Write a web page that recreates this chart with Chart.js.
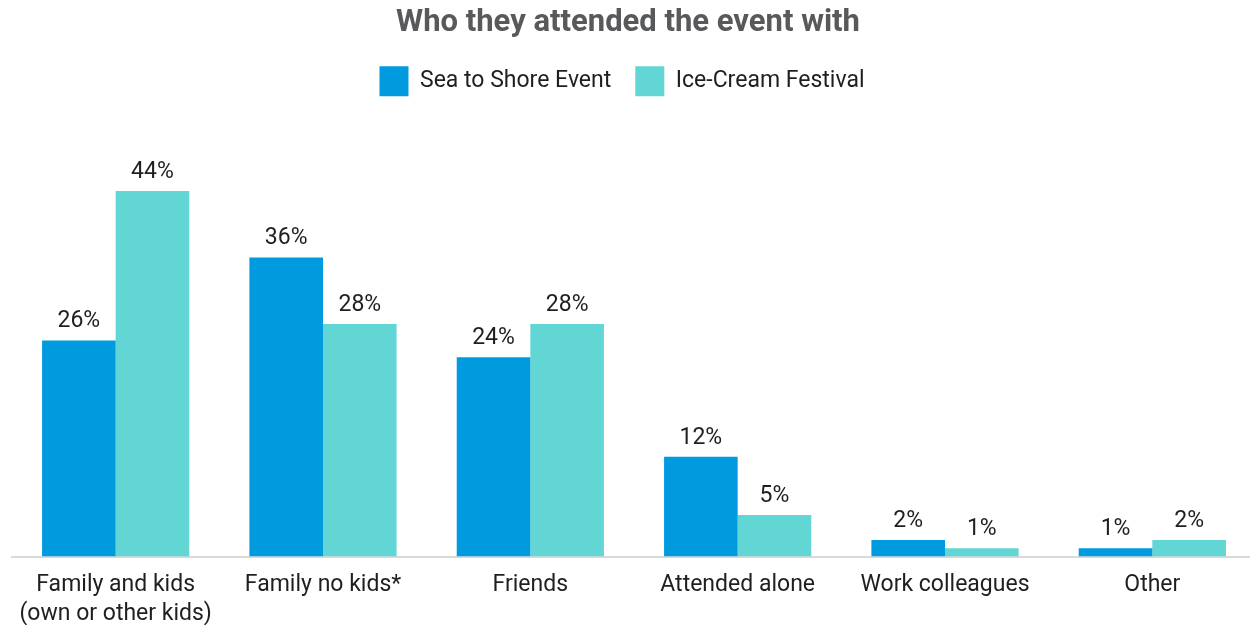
<!DOCTYPE html>
<html>
<head>
<meta charset="utf-8">
<script src="https://cdn.jsdelivr.net/npm/chart.js@4/dist/chart.umd.min.js"></script>
<style>
  html, body { margin: 0; padding: 0; background: #fff; overflow: hidden; }
  #wrap { position: relative; width: 1258px; height: 643px; }
</style>
</head>
<body>
<div id="wrap"><canvas id="whoChart"></canvas></div>
<script>
// Who visitors came with, by event (percent of respondents)
const categories = [
  ['Family and kids', '(own or other kids)'],
  'Family no kids*',
  'Friends',
  'Attended alone',
  'Work colleagues',
  'Other'
];
const seaToShore = [26, 36, 24, 12, 2, 1];
const iceCream = [44, 28, 28, 5, 1, 2];

const FONT = 'Roboto, "Noto Sans", sans-serif';

// draws the "NN%" labels above each bar
const valueLabels = {
  id: 'valueLabels',
  afterDatasetsDraw(chart) {
    const ctx = chart.ctx;
    ctx.save();
    ctx.font = '23px ' + FONT;
    ctx.fillStyle = '#1f1f1f';
    ctx.textAlign = 'center';
    ctx.textBaseline = 'middle';
    chart.data.datasets.forEach((ds, i) => {
      chart.getDatasetMeta(i).data.forEach((bar, j) => {
        ctx.fillText(ds.data[j] + '%', bar.x, bar.y - 19);
      });
    });
    ctx.restore();
  }
};

// canvas is a bit wider than the page, so pull the header boxes back to the visible centre
const headerNudge = {
  id: 'headerNudge',
  afterLayout(chart) {
    if (chart.titleBlock) { chart.titleBlock.left -= 6; chart.titleBlock.right -= 6; }
    if (chart.legend) { chart.legend.left -= 12; chart.legend.right -= 12; }
  }
};

new Chart(document.getElementById('whoChart'), {
  type: 'bar',
  data: {
    labels: categories,
    datasets: [
      { label: 'Sea to Shore Event', data: seaToShore, backgroundColor: '#009bde' },
      { label: 'Ice-Cream Festival', data: iceCream, backgroundColor: '#62d6d4' }
    ]
  },
  options: {
    responsive: true,
    maintainAspectRatio: false,
    animation: false,
    barPercentage: 1,
    categoryPercentage: 0.71,
    layout: { padding: { left: 12, right: 2, top: 5, bottom: 0 } },
    plugins: {
      title: {
        display: true,
        text: 'Who they attended the event with',
        color: '#58595b',
        font: { family: FONT, size: 31, weight: 'bold' },
        padding: { top: 0, bottom: 0 }
      },
      legend: {
        position: 'top',
        labels: {
          boxWidth: 29,
          boxHeight: 30,
          color: '#1f1f1f',
          padding: 24,
          font: { family: FONT, size: 23 }
        }
      },
      tooltip: { enabled: false }
    },
    scales: {
      x: {
        grid: { display: false, drawTicks: false },
        border: { color: '#d9d9d9', width: 2 },
        ticks: {
          color: '#1f1f1f',
          padding: 14,
          maxRotation: 0,
          autoSkip: false,
          font: { family: FONT, size: 23, lineHeight: 1.27 }
        }
      },
      y: {
        display: false,
        min: 0,
        max: 54.2
      }
    }
  },
  plugins: [valueLabels, headerNudge]
});
</script>
</body>
</html>
